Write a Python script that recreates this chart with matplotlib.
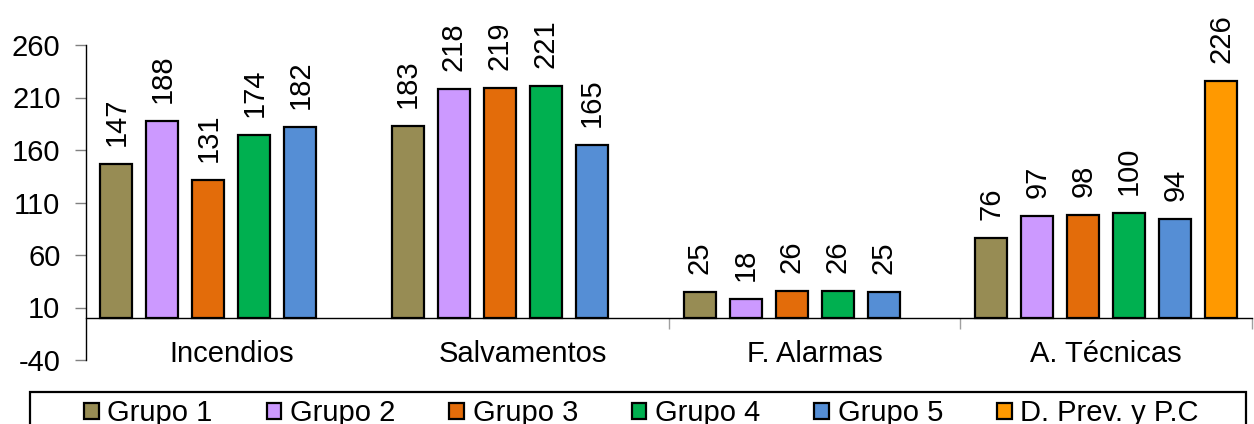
import numpy as np
import matplotlib
matplotlib.use('Agg')
import matplotlib.pyplot as plt
import matplotlib.ticker as mticker
from matplotlib.patches import Rectangle

plt.rcParams['font.family'] = ['Liberation Sans', 'DejaVu Sans']
plt.rcParams['axes.unicode_minus'] = False

categories = ['Incendios', 'Salvamentos', 'F. Alarmas', 'A. Técnicas']
series_names = ['Grupo 1', 'Grupo 2', 'Grupo 3', 'Grupo 4', 'Grupo 5', 'D. Prev. y P.C']
grupo_1 = [147, 183, 25, 76]
grupo_2 = [188, 218, 18, 97]
grupo_3 = [131, 219, 26, 98]
grupo_4 = [174, 221, 26, 100]
grupo_5 = [182, 165, 25, 94]
d_prev = [np.nan, np.nan, np.nan, 226]
y_ticks = [-40, 10, 60, 110, 160, 210, 260]

COLORS = ['#978C54', '#CC99FF', '#E36C0A', '#00B050', '#558ED5', '#FF9900']
FS = 21

series = [grupo_1, grupo_2, grupo_3, grupo_4, grupo_5, d_prev]

fig = plt.figure(figsize=(12.54, 4.24), dpi=100)
ax = fig.add_axes([85.5 / 1254, 1 - 360 / 424, (1252 - 85.5) / 1254, 315 / 424])

x = np.arange(len(categories))
width = 0.11
step = 0.1577
n = len(series)
handles = []
for i, vals in enumerate(series):
    offset = (i - (n - 1) / 2) * step
    vals = np.array(vals, dtype=float)
    bars = ax.bar(x + offset, vals, width=width, color=COLORS[i],
                  edgecolor='black', linewidth=1.6, label=series_names[i], zorder=3)
    handles.append(bars)
    for xi, v in zip(x + offset, vals):
        if np.isnan(v):
            continue
        ax.annotate(f'{v:.0f}', (xi, v), xytext=(0, 13), textcoords='offset points',
                    rotation=90, ha='center', va='bottom', fontsize=FS)

ax.set_xlim(-0.5, len(categories) - 0.5)
ax.set_ylim(-40, 260)
ax.set_yticks(y_ticks)

for s in ['top', 'right']:
    ax.spines[s].set_visible(False)
ax.spines['left'].set_linewidth(1.0)
ax.spines['bottom'].set_linewidth(1.0)
ax.spines['bottom'].set_position(('data', 0))

ax.tick_params(axis='y', which='major', direction='out', length=8, width=1,
               color='#808080', pad=10, labelsize=FS)

# category boundaries as major ticks, names on minor ticks
ax.xaxis.set_major_locator(mticker.FixedLocator(x[1:] + 0.5))
ax.xaxis.set_major_formatter(mticker.NullFormatter())
ax.xaxis.set_minor_locator(mticker.FixedLocator(x))
ax.xaxis.set_minor_formatter(mticker.FixedFormatter(categories))
ax.tick_params(axis='x', which='major', direction='out', length=8, width=1, color='#A0A0A0')
ax.tick_params(axis='x', which='minor', length=0, pad=16, labelsize=FS)

leg = fig.legend(handles=handles, labels=series_names, loc='upper center',
                 bbox_to_anchor=(641.5 / 1254, 1 - 392 / 424),
                 ncol=6, fontsize=FS, frameon=False,
                 borderpad=0.25, handlelength=0.5, handleheight=0.5,
                 handletextpad=0.3, columnspacing=1.85, borderaxespad=0)
for h in leg.legend_handles:
    h.set_linewidth(1.6)

frame = Rectangle((30 / 1254, -0.1), 1216 / 1254, 1 - 392 / 424 + 0.1,
                  transform=fig.transFigure, fill=False, edgecolor='black',
                  linewidth=1.6, clip_on=False)
fig.patches.append(frame)

fig.savefig('out.png', dpi=100)
